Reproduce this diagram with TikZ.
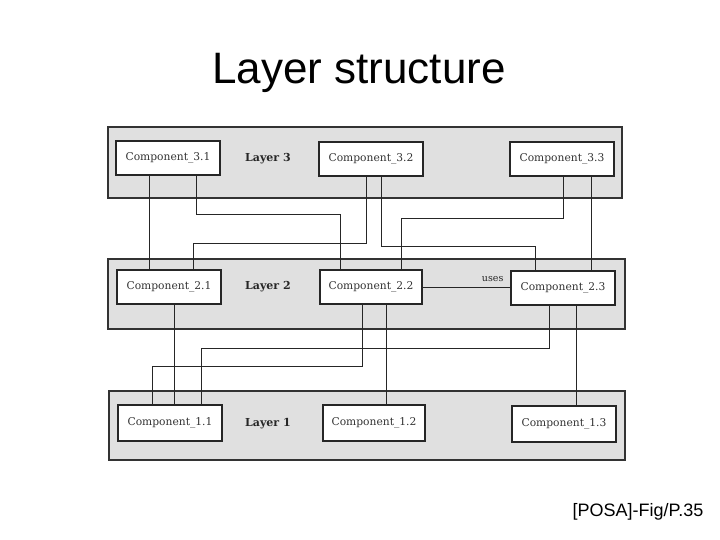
\documentclass[tikz,border=0pt]{standalone}
\usepackage{fontspec}
\newfontfamily\arialfont{Liberation Sans}
\newfontfamily\compfont{DejaVu Serif}
\begin{document}
\begin{tikzpicture}[x=1pt,y=-1pt,
  layer/.style={draw=black!80, line width=1.3pt, fill=black!12, inner sep=0pt},
  comp/.style={draw=black!85, line width=1.6pt, fill=white, inner sep=0pt,
    font=\compfont\fontsize{10.7}{12}\selectfont, text=black!80},
  layerlabel/.style={font=\compfont\fontsize{11}{13}\selectfont\bfseries, text=black!85},
  conn/.style={draw=black!85, line width=1pt}]
\useasboundingbox (0,0) rectangle (720,540);
% title and source
\node[font=\arialfont\fontsize{44}{50}\selectfont, anchor=base] (title) at (359,84) {Layer structure};
\node[font=\arialfont\fontsize{18}{21}\selectfont, anchor=base west] (src) at (569,516) {[POSA]-Fig/P.35};
% layers
\node[layer, minimum width=514pt, minimum height=71pt] (L3) at (365,162.5) {};
\node[layer, minimum width=517pt, minimum height=70pt] (L2) at (366.5,294) {};
\node[layer, minimum width=516pt, minimum height=69pt] (L1) at (367,425.5) {};
% components
\node[comp, minimum width=104pt, minimum height=34pt] (c31) at (168,158) {Component\_3.1};
\node[comp, minimum width=104pt, minimum height=34pt] (c32) at (371,159) {Component\_3.2};
\node[comp, minimum width=104pt, minimum height=34pt] (c33) at (562,159) {Component\_3.3};
\node[comp, minimum width=104pt, minimum height=34pt] (c21) at (169,287) {Component\_2.1};
\node[comp, minimum width=102pt, minimum height=34pt] (c22) at (371,287) {Component\_2.2};
\node[comp, minimum width=104pt, minimum height=34pt] (c23) at (563,288) {Component\_2.3};
\node[comp, minimum width=104pt, minimum height=36pt] (c11) at (170,423) {Component\_1.1};
\node[comp, minimum width=102pt, minimum height=36pt] (c12) at (374,423) {Component\_1.2};
\node[comp, minimum width=104pt, minimum height=36pt] (c13) at (564,424) {Component\_1.3};
% layer labels
\node[layerlabel] (t3) at (268,159) {Layer 3};
\node[layerlabel] (t2) at (268,287) {Layer 2};
\node[layerlabel] (t1) at (268,424) {Layer 1};
% connectors between components
\draw[conn] (c31.south -| 149,0) -- (c21.north -| 149,0);
\draw[conn] (c31.south -| 196,0) |- (340,215) -- (c22.north -| 340,0);
\draw[conn] (c32.south -| 366,0) |- (193,243.5) -- (c21.north -| 193,0);
\draw[conn] (c32.south -| 381,0) |- (535,246) -- (c23.north -| 535,0);
\draw[conn] (c33.south -| 563,0) |- (401,219) -- (c22.north -| 401,0);
\draw[conn] (c33.south -| 591,0) -- (c23.north -| 591,0);
\draw[conn] (c22.east) -- (c22.east -| c23.west) node[pos=0.8, above=2pt, font=\compfont\fontsize{9.5}{11}\selectfont, text=black!85] (uses) {uses};
\draw[conn] (c21.south -| 174,0) -- (c11.north -| 174,0);
\draw[conn] (c22.south -| 362,0) |- (152,366.5) -- (c11.north -| 152,0);
\draw[conn] (c22.south -| 386,0) -- (c12.north -| 386,0);
\draw[conn] (c23.south -| 549,0) |- (201,348.5) -- (c11.north -| 201,0);
\draw[conn] (c23.south -| 576.5,0) -- (c13.north -| 576.5,0);
\end{tikzpicture}
\end{document}
